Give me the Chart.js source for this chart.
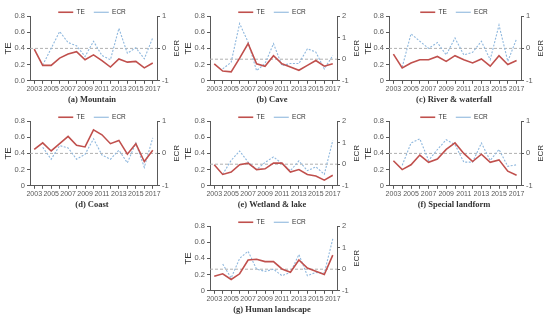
<!DOCTYPE html>
<html>
<head>
<meta charset="utf-8">
<script src="https://cdn.jsdelivr.net/npm/chart.js@4.4.1/dist/chart.umd.min.js"></script>
<style>
  html, body { margin: 0; padding: 0; background: #fff; }
  #wrap { position: relative; width: 550px; height: 322px; overflow: hidden; }
  .panel { position: absolute; }
</style>
</head>
<body>
<div id="wrap"></div>
<script>
const years = ['2003', '2004', '2005', '2006', '2007', '2008', '2009', '2010',
               '2011', '2012', '2013', '2014', '2015', '2016', '2017'];

// TE on left axis, ECR (change rate, no value for first year) on right axis
const teMountain  = [0.39, 0.19, 0.19, 0.28, 0.33, 0.36, 0.26, 0.32, 0.25, 0.17, 0.27, 0.23, 0.24, 0.16, 0.22];
const ecrMountain = [null, -0.52, 0.00, 0.52, 0.18, 0.08, -0.25, 0.22, -0.22, -0.35, 0.62, -0.15, 0.02, -0.32, 0.33];

const teCave  = [0.21, 0.12, 0.11, 0.28, 0.46, 0.21, 0.18, 0.31, 0.21, 0.17, 0.13, 0.19, 0.25, 0.18, 0.21];
const ecrCave = [null, -0.45, -0.14, 1.65, 0.79, -0.53, -0.2, 0.72, -0.3, -0.2, -0.2, 0.48, 0.33, -0.45, 0.17];

const teRiver  = [0.33, 0.16, 0.22, 0.26, 0.26, 0.30, 0.24, 0.31, 0.26, 0.22, 0.27, 0.18, 0.31, 0.20, 0.25];
const ecrRiver = [null, -0.58, 0.45, 0.22, 0.00, 0.18, -0.2, 0.32, -0.2, -0.12, 0.22, -0.35, 0.72, -0.4, 0.3];

const teCoast  = [0.45, 0.53, 0.43, 0.52, 0.61, 0.50, 0.48, 0.69, 0.63, 0.52, 0.56, 0.39, 0.52, 0.30, 0.44];
const ecrCoast = [null, 0.19, -0.18, 0.24, 0.17, -0.18, -0.03, 0.45, -0.05, -0.18, 0.1, -0.29, 0.32, -0.43, 0.48];

const teWetland  = [0.26, 0.14, 0.17, 0.26, 0.28, 0.20, 0.21, 0.28, 0.28, 0.17, 0.20, 0.14, 0.12, 0.07, 0.13];
const ecrWetland = [null, -0.47, 0.18, 0.61, 0.1, -0.25, 0.08, 0.34, 0.03, -0.3, 0.15, -0.3, -0.12, -0.47, 1.1];

const teSpecial  = [0.31, 0.20, 0.26, 0.38, 0.29, 0.33, 0.45, 0.53, 0.40, 0.30, 0.39, 0.29, 0.32, 0.18, 0.13];
const ecrSpecial = [null, -0.37, 0.32, 0.45, -0.22, 0.12, 0.42, 0.27, -0.27, -0.27, 0.32, -0.22, 0.12, -0.4, -0.35];

const teHuman  = [0.18, 0.21, 0.14, 0.21, 0.38, 0.39, 0.36, 0.36, 0.27, 0.23, 0.38, 0.28, 0.24, 0.20, 0.44];
const ecrHuman = [null, 0.24, -0.41, 0.5, 0.83, 0.0, -0.1, 0.0, -0.3, -0.15, 0.68, -0.3, -0.15, -0.18, 1.4];

const RED = '#c0504d';
const BLUE = '#8fb8de';
const AXIS = '#595959';

// dashed reference line where ECR = 0, plus the right axis title read bottom-to-top
const extras = {
  id: 'extras',
  beforeDatasetsDraw(chart) {
    const {ctx, chartArea, scales} = chart;
    const y = scales.y1.getPixelForValue(0);
    ctx.save();
    ctx.strokeStyle = '#b0b0b0';
    ctx.lineWidth = 1;
    ctx.setLineDash([3, 2]);
    ctx.beginPath();
    ctx.moveTo(chartArea.left, y);
    ctx.lineTo(chartArea.right, y);
    ctx.stroke();
    ctx.restore();
  },
  afterDraw(chart) {
    const {ctx, chartArea} = chart;
    ctx.save();
    ctx.translate(chartArea.right + 20, (chartArea.top + chartArea.bottom) / 2);
    ctx.rotate(-Math.PI / 2);
    ctx.fillStyle = '#333';
    ctx.font = '8px "Liberation Sans", Arial, sans-serif';
    ctx.textAlign = 'center';
    ctx.textBaseline = 'middle';
    ctx.fillText('ECR', 0, 0);
    ctx.restore();
  }
};

const panels = [
  {title: '(a) Mountain',          te: teMountain, ecr: ecrMountain, ecrMax: 1, zero: '0.0', x: 0,   y: 0,   w: 184, lw: 30},
  {title: '(b) Cave',              te: teCave,     ecr: ecrCave,     ecrMax: 2, zero: '0',   x: 180, y: 0,   w: 184, lw: 30},
  {title: '(c) River & waterfall', te: teRiver,    ecr: ecrRiver,    ecrMax: 1, zero: '0',   x: 360, y: 0,   w: 188, lw: 29},
  {title: '(d) Coast',             te: teCoast,    ecr: ecrCoast,    ecrMax: 1, zero: '0',   x: 0,   y: 105, w: 184, lw: 30},
  {title: '(e) Wetland & lake',    te: teWetland,  ecr: ecrWetland,  ecrMax: 2, zero: '0',   x: 180, y: 105, w: 184, lw: 30},
  {title: '(f) Special landform',  te: teSpecial,  ecr: ecrSpecial,  ecrMax: 1, zero: '0',   x: 360, y: 105, w: 188, lw: 29},
  {title: '(g) Human landscape',   te: teHuman,    ecr: ecrHuman,    ecrMax: 2, zero: '0',   x: 180, y: 210, w: 184, lw: 30}
];

Chart.defaults.font.family = '"Liberation Sans", Arial, sans-serif';
Chart.defaults.color = AXIS;

const wrap = document.getElementById('wrap');

panels.forEach(p => {
  const box = document.createElement('div');
  box.className = 'panel';
  box.style.left = p.x + 'px';
  box.style.top = p.y + 'px';
  box.style.width = p.w + 'px';
  box.style.height = '108px';
  const canvas = document.createElement('canvas');
  box.appendChild(canvas);
  wrap.appendChild(box);

  new Chart(canvas, {
    type: 'line',
    data: {
      labels: years,
      datasets: [
        {label: 'TE', data: p.te, yAxisID: 'y', borderColor: RED, backgroundColor: RED,
         borderWidth: 1.6, pointRadius: 0, tension: 0},
        {label: 'ECR', data: p.ecr, yAxisID: 'y1', borderColor: BLUE, backgroundColor: BLUE,
         borderWidth: 1.1, borderDash: [2, 1.5], pointRadius: 0, tension: 0}
      ]
    },
    options: {
      responsive: true,
      maintainAspectRatio: false,
      animation: false,
      layout: {padding: 0},
      plugins: {
        legend: {
          position: 'top',
          maxHeight: 16,
          labels: {
            usePointStyle: true, pointStyle: 'line', pointStyleWidth: 15, boxHeight: 6,
            padding: 9, color: '#333', font: {size: 6.5}
          }
        },
        title: {
          display: true, text: p.title, position: 'bottom', color: '#333',
          font: {family: '"Liberation Serif", "Times New Roman", serif', size: 8.5, weight: 'bold'},
          padding: {top: 2, bottom: 3}
        },
        tooltip: {enabled: false}
      },
      scales: {
        x: {
          offset: true,
          grid: {display: true, drawOnChartArea: false, tickLength: 3, color: AXIS},
          border: {display: true, color: AXIS},
          ticks: {autoSkip: false, maxRotation: 0, padding: 1, font: {size: 7},
                  callback: (v, i) => (i % 2 === 0 ? years[i] : '')},
          afterFit: s => { s.height = 12; }
        },
        y: {
          position: 'left', min: 0, max: 0.8,
          grid: {display: true, drawOnChartArea: false, tickLength: 3, color: AXIS},
          border: {display: true, color: AXIS},
          ticks: {stepSize: 0.2, padding: 2, font: {size: 7.5},
                  callback: v => (v === 0 ? p.zero : v.toFixed(1))},
          title: {display: true, text: 'TE', font: {size: 9.5}, color: '#333', padding: {top: 3, bottom: 0}},
          afterFit: s => { s.width = p.lw; }
        },
        y1: {
          position: 'right', min: -1, max: p.ecrMax,
          grid: {display: true, drawOnChartArea: false, tickLength: 3, color: AXIS},
          border: {display: true, color: AXIS},
          ticks: {stepSize: 1, padding: 2, font: {size: 7.5}},
          afterFit: s => { s.width = 27; }
        }
      }
    },
    plugins: [extras]
  });
});
</script>
</body>
</html>
